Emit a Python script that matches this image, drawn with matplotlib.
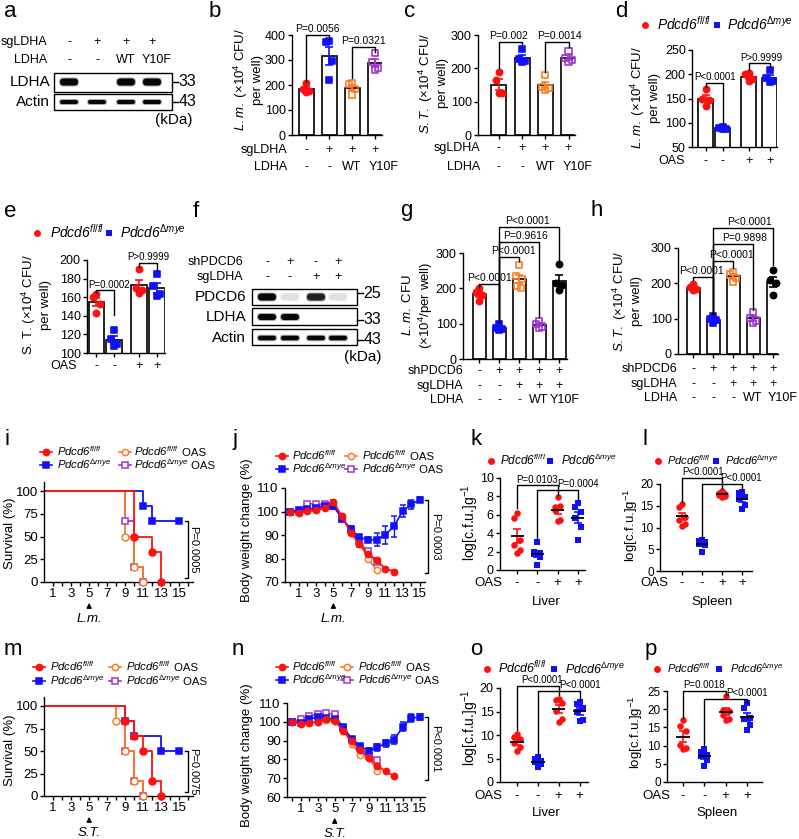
import numpy as np
import matplotlib
matplotlib.use("Agg")
import matplotlib.pyplot as plt
from matplotlib.patches import Rectangle, FancyBboxPatch
import matplotlib.transforms as mtransforms

plt.rcParams.update({
    "font.family": ["Liberation Sans", "DejaVu Sans"],
    "mathtext.fontset": "custom",
    "mathtext.rm": "Liberation Sans",
    "mathtext.it": "Liberation Sans:italic",
    "mathtext.bf": "Liberation Sans:bold",
    "mathtext.sf": "Liberation Sans",
    "axes.linewidth": 1.0,
    "xtick.major.width": 1.0, "ytick.major.width": 1.0, "xtick.minor.width": 1.0,
    "xtick.major.size": 3.0, "ytick.major.size": 3.0, "xtick.minor.size": 3.0,
    "xtick.major.pad": 1.5, "ytick.major.pad": 1.5,
})

# ---------------- DATA ----------------
# a / f : western blot band presence (relative intensity)
a_cols_sg = ["-", "+", "+", "+"]
a_cols_ldha = ["-", "-", "WT", "Y10F"]
a_ldha_band = [1.0, 0.0, 1.0, 1.0]
a_actin_band = [1.0, 1.0, 1.0, 1.0]

f_sh = ["-", "+", "-", "+"]
f_sg = ["-", "-", "+", "+"]
f_pdcd6_band = [1.0, 0.12, 0.9, 0.12]
f_ldha_band = [1.0, 1.0, 0.0, 0.0]
f_actin_band = [1.0, 1.0, 1.0, 1.0]

# b: L.m. CFU
b_ctrl = [207, 183, 178, 173]
b_sg = [376, 371, 297, 220]
b_wt = [209, 205, 183, 162]
b_y10f = [327, 293, 268, 262]
# c: S.T. CFU
c_ctrl = [188, 165, 127, 125]
c_sg = [258, 228, 222, 218]
c_wt = [180, 145, 140, 135]
c_y10f = [252, 232, 225, 218]
# d: L.m. CFU Pdcd6
d_ff = [169, 150, 147, 134]
d_dm = [92, 90, 88, 87]
d_ff_oas = [203, 200, 190, 186]
d_dm_oas = [208, 192, 186, 184]
# e: S.T. CFU Pdcd6
e_ff = [163, 160, 153, 143]
e_dm = [125, 115, 110, 108]
e_ff_oas = [190, 170, 168, 164]
e_dm_oas = [185, 172, 163, 161]
# g: L.m.
g_ctrl = [200, 190, 180, 165]
g_sh = [98, 88, 85, 82]
g_sh_sg = [266, 236, 226, 206, 200]
g_wt = [108, 100, 92, 88]
g_y10f = [268, 215, 210, 195]
# h: S.T.
h_ctrl = [197, 190, 185, 180]
h_sh = [108, 98, 95, 88]
h_sh_sg = [233, 225, 215, 205]
h_wt = [118, 102, 95, 88]
h_y10f = [238, 210, 200, 168]

# survival (time, % survival)
i_ff_t, i_ff_s = [0, 10, 12, 13], [100, 50, 33.3, 0]
i_dm_t, i_dm_s = [0, 11, 12, 15], [100, 83.3, 66.7, 66.7]
i_ffo_t, i_ffo_s = [0, 9, 10, 11], [100, 50, 16.7, 0]
i_dmo_t, i_dmo_s = [0, 9, 10, 11], [100, 66.7, 16.7, 0]
m_ff_t, m_ff_s = [0, 9, 10, 11, 12, 13], [100, 83.3, 66.7, 50, 16.7, 0]
m_dm_t, m_dm_s = [0, 9, 10, 13, 15], [100, 83.3, 66.7, 50, 50]
m_ffo_t, m_ffo_s = [0, 8, 9, 10, 11], [100, 83.3, 50, 16.7, 0]
m_dmo_t, m_dmo_s = [0, 9, 10, 11], [100, 50, 16.7, 0]

# body weight (day 0..)
j_ff = [100, 99.3, 100.2, 100.5, 101.5, 104, 98, 91, 86, 82, 79.3, 75.7, 74.4]
j_ff_err = [0.3, 0.6, 0.6, 0.6, 0.6, 1.0, 1.0, 1.0, 1.0, 1.0, 1.0, 0.5, 0.5]
j_dm = [100, 100.5, 101, 101.5, 102.5, 102.5, 97, 92.7, 89, 88, 88, 90, 93.7, 100.1, 103, 105]
j_dm_err = [0.3, 0.5, 0.5, 0.5, 0.5, 0.8, 0.8, 1.0, 1.0, 1.0, 2.8, 4.0, 4.5, 2.5, 2.0, 1.0]
j_ffo = [100, 100.5, 101, 101, 102, 102.5, 97.5, 91.5, 86.5, 80, 75]
j_dmo = [100, 100, 103.4, 103.1, 103.1, 102.5, 97, 92, 87, 83, 78.5]
n_ff = [100, 98.7, 99.4, 99.9, 101.7, 100.5, 95.2, 89.6, 84.8, 80.8, 76.5, 73.8, 71]
n_ff_err = [0.3, 0.6, 0.6, 0.6, 0.8, 0.8, 0.8, 1.0, 1.0, 1.0, 1.0, 0.5, 0.5]
n_dm = [100, 99.5, 101.5, 102.5, 102, 101.5, 97, 91, 87, 84.5, 86.5, 88.5, 90.5, 97.5, 102, 102.5]
n_dm_err = [0.3, 0.5, 0.5, 0.5, 0.5, 0.6, 0.8, 1.0, 1.0, 1.5, 1.8, 1.8, 2.5, 2.5, 2.0, 1.5]
n_ffo = [100, 99.5, 100, 100, 101, 100.5, 95.5, 88, 82.5, 80.5, 74]
n_dmo = [100, 101.5, 103, 104, 104.5, 104, 96.8, 90.5, 86, 82, 79.5]

# bacterial load log[c.f.u.]/g
k_ff = [6.2, 5.7, 3.3, 2.7, 2.2, 1.8]
k_dm = [3.0, 2.0, 1.8, 1.7, 1.4, 0.5]
k_ff_oas = [7.9, 6.9, 7.0, 6.5, 5.4, 5.3]
k_dm_oas = [7.3, 6.8, 6.3, 5.7, 4.7, 3.3]
l_ff = [15.4, 14.8, 12.5, 11.7, 10.8, 10.4]
l_dm = [7.2, 7.0, 6.6, 6.2, 6.0, 4.3]
l_ff_oas = [18.4, 17.9, 17.6, 17.4, 17.3, 17.1]
l_dm_oas = [18.2, 18.0, 16.9, 16.5, 15.2, 14.2]
o_ff = [10.2, 9.6, 9.2, 8.3, 7.4, 6.5]
o_dm = [5.3, 4.8, 4.5, 4.3, 3.9, 3.1]
o_ff_oas = [17.7, 17.4, 16.9, 15.1, 13.4, 12.8]
o_dm_oas = [17.0, 16.7, 15.8, 14.8, 13.2, 12.9]
p_ff = [17.0, 15.3, 14.1, 10.3, 9.3, 9.0]
p_dm = [9.2, 8.3, 7.5, 7.2, 6.0, 4.3]
p_ff_oas = [23.7, 19.9, 19.5, 18.4, 17.4, 17.1]
p_dm_oas = [21.8, 20.2, 17.6, 17.2, 15.7, 14.4]

# ---------------- STYLE / LAYOUT ----------------
RED, BLUE, ORANGE, PURPLE, BLACK = "#ff1010", "#1010ff", "#ff7a22", "#a035d0", "#000000"
FF = "Pdcd6$^{fl/fl}$"
DM = "Pdcd6$^{\\Delta mye}$"
OFF4 = [0.0, -0.16, 0.16, 0.0]
OFF5 = [0.0, -0.16, 0.16, -0.12, 0.12]
OFF6 = [0.0, -0.14, 0.14, -0.14, 0.14, 0.0]

W, H = 799, 839
fig = plt.figure(figsize=(W / 100, H / 100), dpi=100)
ov = fig.add_axes([0, 0, 1, 1])
ov.set_xlim(0, W)
ov.set_ylim(H, 0)
ov.axis("off")
RND = fig.canvas.get_renderer()


def px_ax(box, xlim, ylim):
    l, t, r, b = box
    ax = fig.add_axes([l / W, 1 - b / H, (r - l) / W, (b - t) / H])
    ax.set_xlim(*xlim)
    ax.set_ylim(*ylim)
    ax.set_facecolor("none")
    ax.spines["top"].set_visible(False)
    ax.spines["right"].set_visible(False)
    return ax


def mix(ax):
    return mtransforms.blended_transform_factory(ax.transData, ov.transData)


def sem(v):
    return np.std(v, ddof=1) / np.sqrt(len(v))


def plabel(x, y, s):
    ov.text(x, y, s, fontsize=16, va="baseline", ha="left")


def rows(ax, ys, titles, labels, title_x, fs=9, shift=None):
    tr = mix(ax)
    for y, ttl, labs in zip(ys, titles, labels):
        ov.text(title_x, y, ttl, ha="right", va="center", fontsize=fs)
        for p, s in zip(ax.get_xticks(), labs):
            dx = shift if (shift is not None and s == "Y10F") else 0
            ax.text(p + dx, y, s, transform=tr, ha="center", va="center", fontsize=fs, clip_on=False)


def ylab(x, y, s, fs=9.5):
    ov.text(x, y, s, rotation=90, ha="center", va="center", fontsize=fs, multialignment="center")


def ltext(x, base, ital, tail, fs):
    t = ov.text(x, base, ital, style="italic", fontsize=fs, va="baseline", ha="left")
    if tail:
        bb = t.get_window_extent(RND)
        xr = ov.transData.inverted().transform((bb.x1, bb.y0))[0]
        ov.text(xr, base, tail, fontsize=fs, va="baseline", ha="left")


def geno_legend(y, xr, xtr, xb, xtb, fs, ms=5):
    base = y + 0.36 * fs * 1.389
    ov.plot([xr], [y], "o", color=RED, ms=ms, mew=0)
    ltext(xtr, base, FF, "", fs)
    ov.plot([xb], [y], "s", color=BLUE, ms=ms * 0.95, mew=0)
    ltext(xtb, base, DM, "", fs)


def line_legend(ys, cols, fs=8.2):
    entries = [[(RED, "o", True, FF, ""), (BLUE, "s", True, DM, "")],
               [(ORANGE, "o", False, FF, " OAS"), (PURPLE, "s", False, DM, " OAS")]]
    for (mx, tx), col in zip(cols, entries):
        for y, (c, mk, filled, lab, tail) in zip(ys, col):
            ov.plot([mx - 6, mx + 6], [y, y], color=c, lw=1.2)
            ov.plot([mx], [y], mk, ms=4.5, mfc=c if filled else "white", mec=c, mew=1.1)
            ltext(tx, y + 0.36 * fs * 1.389, lab, tail, fs)


def bar_panel(box, xlim, ylim, yticks, pos, width, groups, styles, tick_fs=9):
    ax = px_ax(box, xlim, ylim)
    means = [np.mean(g) for g in groups]
    ax.bar(pos, means, width=width, color="white", edgecolor="black", linewidth=1.2, zorder=1)
    for p, g, m, (c, mk, filled) in zip(pos, groups, means, styles):
        ax.errorbar(p, m, yerr=sem(g), fmt="none", ecolor=c, elinewidth=1.2, capsize=3, capthick=1.2, zorder=3)
        offs = {4: OFF4, 5: OFF5, 6: OFF6}[len(g)]
        ax.scatter(np.array(offs) * (width / 0.65) * 0.85 + p, g, s=20, marker=mk,
                   facecolors=c if filled else "none", edgecolors=c, linewidths=1.2, zorder=4, clip_on=False)
    ax.set_xticks(pos)
    ax.set_xticklabels([])
    ax.set_yticks(yticks)
    ax.tick_params(labelsize=tick_fs)
    return ax


def dot_panel(box, xlim, ylim, yticks, groups, tick_fs=9):
    ax = px_ax(box, xlim, ylim)
    styles = [RED, BLUE, RED, BLUE]
    markers = ["o", "s", "o", "s"]
    for p, (g, c, mk) in enumerate(zip(groups, styles, markers)):
        m = np.mean(g)
        ax.scatter(np.array(OFF6) + p, g, s=22, marker=mk, color=c, linewidths=0, zorder=3, clip_on=False)
        ax.errorbar(p, m, yerr=sem(g), fmt="none", ecolor=c, elinewidth=1.2, capsize=3, capthick=1.2, zorder=4)
        ax.hlines(m, p - 0.32, p + 0.32, color="black", lw=1.3, zorder=5)
    ax.set_xticks(range(4))
    ax.set_xticklabels([])
    ax.set_yticks(yticks)
    ax.tick_params(labelsize=tick_fs)
    return ax


def bracket(ax, x1, x2, y, yl, yr, text, tx=None, fs=7.5):
    ax.plot([x1, x1, x2, x2], [yl, y, y, yr], color="k", lw=1.0, clip_on=False, zorder=6)
    if not text:
        return
    if tx is None:
        tx = (x1 + x2) / 2
    ax.annotate(text, (tx, y), xytext=(0, 0.5), textcoords="offset points",
                ha="center", va="bottom", fontsize=fs, annotation_clip=False)


def side_bracket(ax, x, xt, ytop, ybot, text, tx, fs=8):
    ax.plot([xt, x, x, xt], [ytop, ytop, ybot, ybot], color="k", lw=1.0, clip_on=False)
    ax.text(tx, (ytop + ybot) / 2, text, rotation=-90, ha="center", va="center", fontsize=fs, clip_on=False)


def blot_band(x, y, w, h, v):
    if v <= 0:
        return
    g = 1 - 0.97 * v
    ov.add_patch(FancyBboxPatch((x - w / 2 - 1, y - h / 2 - 1), w + 2, h + 2,
                                boxstyle="round,pad=0,rounding_size=%.2f" % ((h + 2) / 2),
                                facecolor=str(g), edgecolor="none", alpha=0.35))
    ov.add_patch(FancyBboxPatch((x - w / 2, y - h / 2), w, h,
                                boxstyle="round,pad=0,rounding_size=%.2f" % (h / 2),
                                facecolor=str(g), edgecolor="none"))


def blot_box(x0, y0, x1, y1):
    ov.add_patch(Rectangle((x0, y0), x1 - x0, y1 - y0, facecolor="none", edgecolor="black", lw=1.0))


def kda(x, y, s):
    ov.plot([x, x + 6], [y, y], color="k", lw=1.0)
    ov.text(x + 6.5, y, s, ha="left", va="center", fontsize=11.5)


# ---------------- PANEL a ----------------
plabel(4, 17, "a")
a_x = [69, 97, 126, 152]
for y, ttl, labs in [(42, "sgLDHA", a_cols_sg), (60, "LDHA", a_cols_ldha)]:
    ov.text(47, y, ttl, ha="right", va="center", fontsize=9)
    for x, s in zip(a_x, labs):
        ov.text(x + (5 if s == "Y10F" else 0), y, s, ha="center", va="center", fontsize=9)
blot_box(54, 73, 172, 92)
blot_box(54, 94, 172, 110)
for x, v in zip(a_x, a_ldha_band):
    blot_band(x, 82, 18, 7, v)
for x, v in zip(a_x, a_actin_band):
    blot_band(x, 102, 18, 4, v)
ov.text(50, 82, "LDHA", ha="right", va="center", fontsize=11)
ov.text(50, 102, "Actin", ha="right", va="center", fontsize=11)
kda(172, 82, "33")
kda(172, 102, "43")
ov.text(155, 120, "(kDa)", ha="left", va="center", fontsize=11)

# ---------------- PANEL b ----------------
plabel(209, 17, "b")
axb = bar_panel((292, 35, 382, 135), (-0.61, 3.3), (0, 400), [0, 100, 200, 300, 400],
                [0, 1, 2, 3], 0.65, [b_ctrl, b_sg, b_wt, b_y10f],
                [(RED, "o", True), (BLUE, "s", True), (ORANGE, "s", False), (PURPLE, "s", False)])
rows(axb, [150, 167], ["sgLDHA", "LDHA"], [a_cols_sg, a_cols_ldha], 287, shift=0.38)
ylab(248, 80, "$L.m.$ (×10$^{4}$ CFU/\nper well)")
bracket(axb, 0, 1, 400, 213, 383, "P=0.0056")
bracket(axb, 2, 3, 353, 227, 333, "P=0.0321")

# ---------------- PANEL c ----------------
plabel(404, 17, "c")
axc = bar_panel((478, 35, 575, 135), (-0.9, 3.28), (0, 300), [0, 100, 200, 300],
                [0, 1, 2, 3], 0.65, [c_ctrl, c_sg, c_wt, c_y10f],
                [(RED, "o", True), (BLUE, "s", True), (ORANGE, "s", False), (PURPLE, "s", False)])
rows(axc, [148, 167], ["sgLDHA", "LDHA"], [a_cols_sg, a_cols_ldha], 480, shift=0.38)
ylab(433, 83, "$S.T.$ (×10$^{4}$ CFU/\nper well)")
bracket(axc, 0, 1, 280, 200, 270, "P=0.002", tx=0.4)
bracket(axc, 2, 3, 280, 190, 265, "P=0.0014", tx=2.6)

# ---------------- PANEL d ----------------
plabel(615, 17, "d")
geno_legend(25, 645, 657, 717, 727, 10)
d_pos = [0, 0.9, 2.27, 3.37]
axd = bar_panel((692, 50, 777, 147), (-0.71, 3.76), (50, 250), [50, 100, 150, 200, 250],
                d_pos, 0.8, [d_ff, d_dm, d_ff_oas, d_dm_oas],
                [(RED, "o", True), (BLUE, "s", True), (RED, "o", True), (BLUE, "s", True)])
rows(axd, [161], ["OAS"], [["-", "-", "+", "+"]], 685)
ylab(645, 98, "$L.m.$ (×10$^{4}$ CFU/\nper well)")
bracket(axd, d_pos[0], d_pos[1], 182.6, 173, 97, "P<0.0001", tx=0.5, fs=7)
bracket(axd, d_pos[2], d_pos[3], 222.6, 209, 215, "P>0.9999", tx=2.95, fs=7)

# ---------------- PANEL e ----------------
plabel(4, 217, "e")
geno_legend(233, 37, 50, 109, 120, 10)
e_pos = [0, 1, 2.43, 3.43]
axe = bar_panel((87, 260, 165, 353), (-0.54, 3.9), (100, 200), [100, 120, 140, 160, 180, 200],
                e_pos, 0.9, [e_ff, e_dm, e_ff_oas, e_dm_oas],
                [(RED, "o", True), (BLUE, "s", True), (RED, "o", True), (BLUE, "s", True)])
rows(axe, [366], ["OAS"], [["-", "-", "+", "+"]], 77)
ylab(36, 305, "S. T. (×10$^{\\mathrm{4}}$ CFU/\nper well)")
bracket(axe, e_pos[0], e_pos[1], 167.4, 164, 140.5, "P=0.0002", tx=0.7, fs=7)
bracket(axe, e_pos[2], e_pos[3], 197, 192.5, 189, "P>0.9999", tx=2.93, fs=7)

# ---------------- PANEL f ----------------
plabel(193, 217, "f")
f_x = [267, 290, 316, 338]
for y, ttl, labs in [(262, "shPDCD6", f_sh), (277, "sgLDHA", f_sg)]:
    ov.text(243, y, ttl, ha="right", va="center", fontsize=9)
    for x, s in zip(f_x, labs):
        ov.text(x, y, s, ha="center", va="center", fontsize=9)
blot_box(252, 289, 357, 305)
blot_box(252, 308, 357, 325)
blot_box(252, 329, 357, 345)
for x, v in zip(f_x, f_pdcd6_band):
    blot_band(x, 297, 18, 7, v)
for x, v in zip(f_x, f_ldha_band):
    blot_band(x, 317, 18, 6, v)
for x, v in zip(f_x, f_actin_band):
    blot_band(x, 338, 18, 4.5, v)
ov.text(246, 297, "PDCD6", ha="right", va="center", fontsize=11)
ov.text(246, 317, "LDHA", ha="right", va="center", fontsize=11)
ov.text(246, 338, "Actin", ha="right", va="center", fontsize=11)
kda(357, 293, "25")
kda(357, 320, "33")
kda(357, 340, "43")
ov.text(344, 357, "(kDa)", ha="left", va="center", fontsize=11)

# ---------------- PANEL g ----------------
plabel(400, 216, "g")
axg = bar_panel((463, 253, 567, 359), (-0.8, 4.4), (0, 300), [0, 100, 200, 300],
                [0, 1, 2, 3, 4], 0.65, [g_ctrl, g_sh, g_sh_sg, g_wt, g_y10f],
                [(RED, "o", True), (BLUE, "s", True), (ORANGE, "s", False), (PURPLE, "s", False), (BLACK, "o", True)])
g_rows = [["-", "+", "+", "+", "+"], ["-", "-", "+", "+", "+"], ["-", "-", "-", "WT", "Y10F"]]
rows(axg, [371, 386, 400], ["shPDCD6", "sgLDHA", "LDHA"], g_rows, 463, shift=0.3)
ylab(418, 305, "$L.m.$ CFU\n(×10$^{4}$/per well)")
bracket(axg, 0, 1, 212, 204, 105, "P<0.0001", tx=0.5, fs=7.5)
bracket(axg, 1, 2, 289, 105, 276, "P<0.0001", tx=1.7, fs=7.5)
bracket(axg, 1, 3, 331, 105, 118, "P=0.9616", tx=2.3, fs=7.5)
bracket(axg, 1, 4, 374, 105, 280, "P<0.0001", tx=2.45, fs=7.5)

# ---------------- PANEL h ----------------
plabel(590, 216, "h")
axh = bar_panel((678, 248, 778, 354), (-0.75, 4.25), (0, 300), [0, 100, 200, 300],
                [0, 1, 2, 3, 4], 0.65, [h_ctrl, h_sh, h_sh_sg, h_wt, h_y10f],
                [(RED, "o", True), (BLUE, "s", True), (ORANGE, "s", False), (PURPLE, "s", False), (BLACK, "o", True)])
rows(axh, [369, 384, 398], ["shPDCD6", "sgLDHA", "LDHA"], g_rows, 677, shift=0.5)
ylab(627, 301, "$S.T.$ (×10$^{4}$ CFU/\nper well)")
bracket(axh, 0, 1, 218, 209, 112, "P<0.0001", tx=0.45, fs=7.5)
bracket(axh, 1, 2, 263, 112, 242, "P<0.0001", tx=1.9, fs=7.5)
bracket(axh, 1, 3, 311, 112, 124, "P=0.9898", tx=2.6, fs=7.5)
bracket(axh, 1, 4, 357, 112, 252, "P<0.0001", tx=2.8, fs=7.5)


# ---------------- survival / weight panels ----------------
def x_arrow(ax, b, lab):
    ax.annotate("", xy=(5, b + 18), xytext=(5, b + 28), xycoords=mix(ax), textcoords=mix(ax),
                arrowprops=dict(arrowstyle="-|>", color="k", lw=1.0, mutation_scale=7))
    ax.text(5, b + 37, lab, transform=mix(ax), ha="center", va="center",
            fontsize=9.5, style="italic", clip_on=False)


def surv_panel(box, curves, ytop, ybot, ptxt, arrow_lab):
    ax = px_ax(box, (0, 16.5), (0, 110))
    for t, s, c, mk, filled in curves:
        ax.step(t, s, where="post", color=c, lw=1.3, zorder=2)
        ax.plot(t[1:], s[1:], mk, ms=5, mfc=c if filled else "white", mec=c, mew=1.1,
                ls="none", zorder=3, clip_on=False)
    ax.set_xticks(range(1, 16, 2))
    ax.set_xticks(range(2, 17, 2), minor=True)
    ax.set_yticks([0, 25, 50, 75, 100])
    ax.tick_params(labelsize=9.5)
    side_bracket(ax, 15.95, 15.6, ytop, ybot, ptxt, 16.5)
    x_arrow(ax, box[3], arrow_lab)
    return ax


def weight_panel(box, ylim, yticks, series, ytop, ybot, ptxt, arrow_lab):
    ax = px_ax(box, (-0.6, 15.6), ylim)
    for vals, err, c, mk, filled in series:
        d = np.arange(len(vals))
        ax.errorbar(d, vals, yerr=err, color=c, marker=mk, ms=4.5, mfc=c if filled else "white",
                    mec=c, mew=1.1, lw=1.2, elinewidth=1.0, capsize=2, zorder=3, clip_on=False)
    ax.set_xticks(range(1, 16, 2))
    ax.set_xticks(range(0, 16, 2), minor=True)
    ax.set_yticks(yticks)
    ax.tick_params(labelsize=9.5)
    side_bracket(ax, 15.9, 15.6, ytop, ybot, ptxt, 16.75)
    x_arrow(ax, box[3], arrow_lab)
    return ax


# i
plabel(4, 445, "i")
line_legend([452, 465], [(46, 57), (125, 134)])
surv_panel((44, 482, 193, 582),
           [(i_dm_t, i_dm_s, BLUE, "s", True), (i_dmo_t, i_dmo_s, PURPLE, "s", False),
            (i_ffo_t, i_ffo_s, ORANGE, "o", False), (i_ff_t, i_ff_s, RED, "o", True)],
           66.7, 4, "P=0.0005", "L.m.")
ylab(10, 533, "Survival (%)", fs=9.5)

# j
plabel(232, 445, "j")
line_legend([456, 469], [(282, 292), (351, 362)])
weight_panel((285, 488, 425, 582), (70, 110), [70, 80, 90, 100, 110],
             [(j_ffo, None, ORANGE, "o", False), (j_dmo, None, PURPLE, "s", False),
              (j_dm, j_dm_err, BLUE, "s", True), (j_ff, j_ff_err, RED, "o", True)],
             105, 73.7, "P=0.0003", "L.m.")
ylab(247, 530, "Body weight change (%)", fs=9.5)

# m
plabel(4, 655, "m")
line_legend([667, 681], [(39, 50), (115, 126)])
surv_panel((44, 697, 193, 796),
           [(m_dm_t, m_dm_s, BLUE, "s", True), (m_dmo_t, m_dmo_s, PURPLE, "s", False),
            (m_ffo_t, m_ffo_s, ORANGE, "o", False), (m_ff_t, m_ff_s, RED, "o", True)],
           50, 4, "P=0.0075", "S.T.")
ylab(10, 750, "Survival (%)", fs=9.5)

# n
plabel(232, 655, "n")
line_legend([667, 680], [(282, 292), (347, 358)])
weight_panel((287, 703, 425, 797), (60, 110), [60, 70, 80, 90, 100, 110],
             [(n_ffo, None, ORANGE, "o", False), (n_dmo, None, PURPLE, "s", False),
              (n_dm, n_dm_err, BLUE, "s", True), (n_ff, n_ff_err, RED, "o", True)],
             102.3, 69, "P<0.0001", "S.T.")
ylab(247, 755, "Body weight change (%)", fs=9.5)

# ---------------- dot panels ----------------
LOG = "log[c.f.u.]g$^{\\mathrm{-1}}$"
oas_lab = [["-", "-", "+", "+"]]

plabel(470, 445, "k")
geno_legend(461, 491, 500, 550, 561, 8.5)
axk = dot_panel((500, 478, 585, 570), (-0.84, 3.35), (0, 10), [0, 2, 4, 6, 8, 10],
                [k_ff, k_dm, k_ff_oas, k_dm_oas])
rows(axk, [583], ["OAS"], oas_lab, 502, fs=9.5)
ov.text(546, 602, "Liver", ha="center", va="center", fontsize=9.5)
ylab(470, 523, LOG, fs=10)
bracket(axk, 0, 2, 9.2, 6.7, 8.2, "P=0.0103", tx=1.0, fs=7)
bracket(axk, 1, 3, 8.7, 3.3, 7.7, "")
axk.annotate("P=0.0004", (3.0, 8.7), xytext=(0, 0.5), textcoords="offset points",
             ha="center", va="bottom", fontsize=7, annotation_clip=False)

plabel(643, 445, "l")
geno_legend(461, 658, 667, 716, 725, 8)
axl = dot_panel((660, 484, 752, 571), (-1.1, 3.5), (0, 20), [0, 5, 10, 15, 20],
                [l_ff, l_dm, l_ff_oas, l_dm_oas], tick_fs=8.5)
rows(axl, [583], ["OAS"], oas_lab, 668, fs=9.5)
ov.text(712, 602, "Spleen", ha="center", va="center", fontsize=9.5)
ylab(631, 525, LOG, fs=9.5)
bracket(axl, 0, 2, 21.4, 15.9, 19.1, "P<0.0001", tx=1.05, fs=7)
bracket(axl, 1, 3, 20.0, 7.6, 18.6, "")
axl.annotate("P<0.0001", (2.95, 20.0), xytext=(0, 0.5), textcoords="offset points",
             ha="center", va="bottom", fontsize=7, annotation_clip=False)

plabel(470, 655, "o")
geno_legend(669, 487, 498, 554, 565, 9)
axo = dot_panel((500, 688, 588, 782), (-0.81, 3.4), (0, 20), [0, 5, 10, 15, 20],
                [o_ff, o_dm, o_ff_oas, o_dm_oas])
rows(axo, [796], ["OAS"], oas_lab, 502, fs=9.5)
ov.text(546, 813, "Liver", ha="center", va="center", fontsize=9.5)
ylab(470, 728, LOG, fs=10)
bracket(axo, 0, 2, 20.5, 11.1, 18.5, "P<0.0001", tx=1.19, fs=7)
bracket(axo, 1, 3, 19.4, 6.1, 17.4, "")
axo.annotate("P<0.0001", (3.0, 19.4), xytext=(0, 0.5), textcoords="offset points",
             ha="center", va="bottom", fontsize=7, annotation_clip=False)

plabel(645, 655, "p")
geno_legend(669, 657, 667, 719, 730, 8)
axp = dot_panel((667, 691, 762, 782), (-0.75, 3.7), (0, 25), [0, 5, 10, 15, 20, 25],
                [p_ff, p_dm, p_ff_oas, p_dm_oas], tick_fs=8.5)
rows(axp, [796], ["OAS"], oas_lab, 670, fs=9.5)
ov.text(717, 813, "Spleen", ha="center", va="center", fontsize=9.5)
ylab(636, 732, LOG, fs=9.5)
bracket(axp, 0, 2, 25.0, 17.5, 23.9, "P=0.0018", tx=0.99, fs=7)
bracket(axp, 1, 3, 22.8, 10.2, 22.1, "")
axp.annotate("P<0.0001", (3.0, 22.8), xytext=(0, 0.5), textcoords="offset points",
             ha="center", va="bottom", fontsize=7, annotation_clip=False)

fig.savefig("out.png", dpi=100)
